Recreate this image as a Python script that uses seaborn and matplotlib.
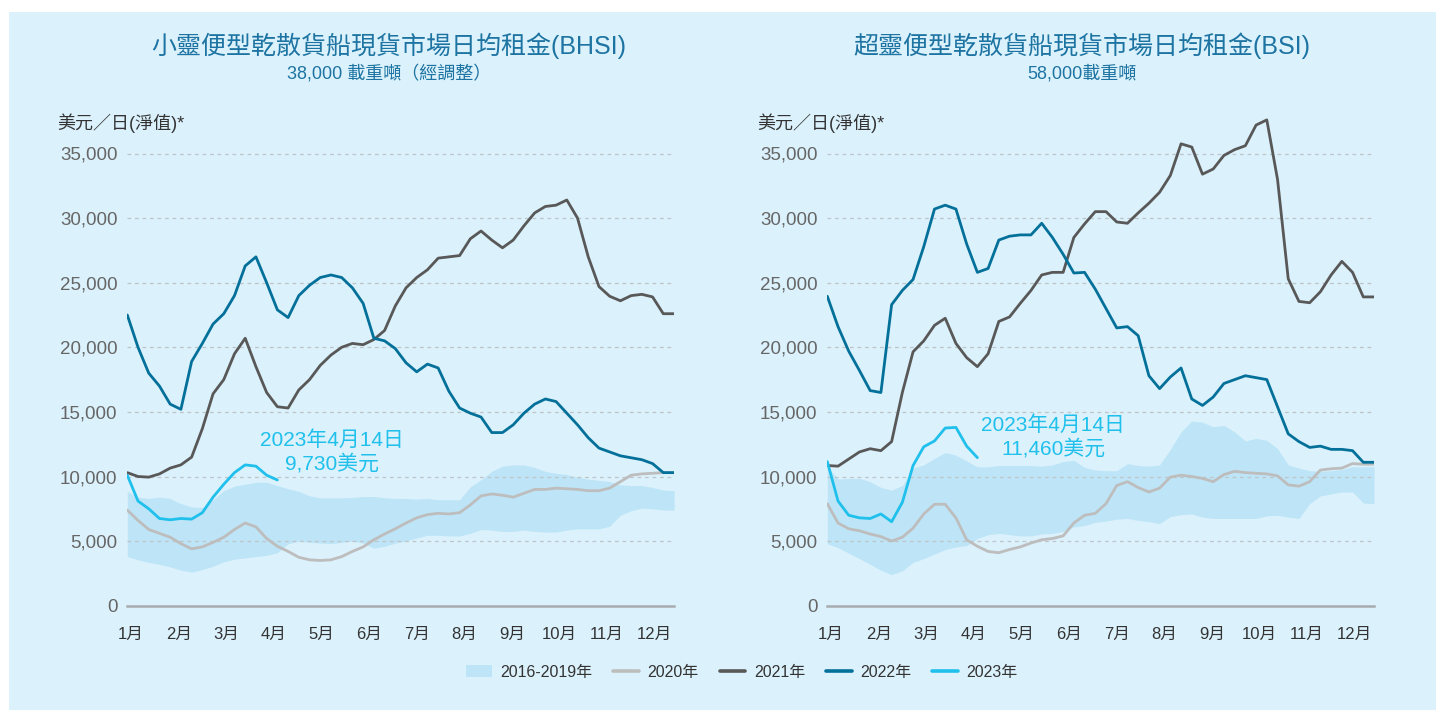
import matplotlib
matplotlib.use("Agg")
import matplotlib.pyplot as plt
import seaborn as sns
import pandas as pd
from matplotlib.patches import Rectangle
from matplotlib.lines import Line2D
from matplotlib.patches import Patch

# weekly values, week 0 = start of January
bhsi_2020 = [7400, 6600, 5900, 5600, 5300, 4800, 4400, 4550, 4900, 5300, 5900, 6400, 6100, 5200, 4600, 4200,
             3750, 3550, 3500, 3550, 3800, 4200, 4550, 5100, 5550, 5950, 6400, 6800, 7050, 7150, 7100, 7200,
             7800, 8500, 8650, 8550, 8400, 8700, 9000, 9000, 9100, 9050, 9000, 8900, 8900, 9100, 9600, 10100,
             10200, 10250, 10300, 10300]
bhsi_2021 = [10300, 10000, 9950, 10200, 10650, 10900, 11500, 13700, 16400, 17500, 19500, 20700, 18500, 16500,
             15400, 15300, 16700, 17500, 18600, 19400, 20000, 20300, 20200, 20600, 21300, 23200, 24600, 25400,
             26000, 26900, 27000, 27100, 28400, 29000, 28300, 27700, 28300, 29400, 30400, 30900, 31000, 31400,
             30000, 27000, 24700, 23950, 23600, 24000, 24100, 23900, 22600, 22600]
bhsi_2022 = [22500, 20000, 18000, 17000, 15600, 15200, 18900, 20300, 21800, 22600, 24000, 26300, 27000, 25000,
             22900, 22300, 24000, 24800, 25400, 25600, 25400, 24600, 23400, 20700, 20500, 19900, 18800, 18100,
             18700, 18400, 16600, 15300, 14900, 14600, 13400, 13400, 14000, 14900, 15600, 16000, 15800, 14900,
             14000, 13000, 12200, 11900, 11600, 11450, 11300, 11000, 10300, 10300]
bhsi_2023 = [10100, 8100, 7500, 6750, 6650, 6750, 6700, 7200, 8400, 9400, 10300, 10900, 10800, 10100, 9730]
bhsi_band_hi = [8850, 8400, 8300, 8400, 8300, 7900, 7650, 7600, 8200, 8900, 9250, 9400, 9550, 9550, 9300, 9050,
                8850, 8500, 8350, 8350, 8350, 8380, 8450, 8450, 8350, 8300, 8300, 8250, 8300, 8200, 8200, 8200,
                9200, 9750, 10400, 10800, 10900, 10900, 10700, 10400, 10250, 10150, 9950, 9800, 9700, 9600,
                9350, 9300, 9300, 9150, 8950, 8900]
bhsi_band_lo = [3800, 3550, 3350, 3200, 3000, 2750, 2600, 2800, 3050, 3400, 3600, 3700, 3800, 3900, 4100, 4800,
                5000, 4900, 4850, 4800, 4900, 5000, 4850, 4450, 4600, 4850, 5000, 5250, 5450, 5450, 5400, 5400,
                5600, 5900, 5850, 5750, 5750, 5850, 5750, 5700, 5700, 5850, 5950, 5950, 5950, 6150, 7000, 7350,
                7550, 7500, 7400, 7400]

bsi_2020 = [7900, 6400, 5950, 5800, 5550, 5350, 5000, 5300, 6000, 7100, 7850, 7850, 6800, 5100, 4600, 4200,
            4100, 4350, 4550, 4850, 5100, 5200, 5400, 6400, 7000, 7150, 7900, 9300, 9600, 9150, 8800, 9100,
            9950, 10100, 10000, 9850, 9600, 10150, 10400, 10300, 10250, 10200, 10050, 9350, 9250, 9600, 10500,
            10600, 10650, 11000, 10950, 10950]
bsi_2021 = [10850, 10800, 11350, 11900, 12150, 12000, 12700, 16500, 19650, 20500, 21700, 22250, 20300, 19200,
            18500, 19500, 22000, 22350, 23400, 24400, 25600, 25800, 25800, 28500, 29550, 30500, 30500, 29700,
            29600, 30400, 31150, 32000, 33300, 35750, 35500, 33400, 33800, 34850, 35300, 35600, 37200, 37600,
            33000, 25300, 23550, 23450, 24300, 25600, 26650, 25800, 23900, 23900]
bsi_2022 = [23950, 21600, 19700, 18200, 16650, 16500, 23300, 24400, 25250, 27800, 30700, 31000, 30700, 28000,
            25800, 26100, 28300, 28600, 28700, 28700, 29600, 28500, 27200, 25750, 25800, 24500, 23000, 21500,
            21600, 20900, 17800, 16800, 17700, 18400, 16000, 15500, 16150, 17200, 17500, 17800, 17650, 17500,
            15400, 13300, 12700, 12250, 12350, 12100, 12100, 12000, 11100, 11100]
bsi_2023 = [11150, 8100, 7000, 6800, 6750, 7100, 6500, 8000, 10850, 12300, 12750, 13750, 13800, 12350, 11460]
bsi_band_hi = [10750, 9800, 9850, 9850, 9600, 9150, 8950, 9300, 10650, 10900, 11400, 11850, 11650, 11200, 10750,
               10750, 10850, 10850, 10850, 10850, 10800, 10900, 11150, 11250, 10700, 10500, 10450, 10450, 11000,
               10850, 10800, 10900, 12100, 13450, 14300, 14200, 13850, 13950, 13450, 12750, 12950, 12800, 12150,
               10900, 10650, 10450, 10400, 10450, 10550, 10750, 10750, 10750]
bsi_band_lo = [4800, 4500, 4050, 3650, 3200, 2750, 2400, 2700, 3350, 3650, 4000, 4350, 4550, 4650, 5200, 5500,
               5600, 5500, 5400, 5400, 5550, 5600, 5750, 6100, 6200, 6450, 6550, 6700, 6750, 6600, 6500, 6350,
               6900, 7050, 7100, 6850, 6750, 6750, 6750, 6750, 6750, 6950, 7000, 6850, 6750, 7900, 8500, 8650,
               8800, 8800, 7950, 7900]

month_labels = ["1月", "2月", "3月", "4月", "5月", "6月", "7月", "8月", "9月", "10月", "11月", "12月"]
year_labels = ["2020年", "2021年", "2022年", "2023年"]
band_label = "2016-2019年"

titles = ["小靈便型乾散貨船現貨市場日均租金(BHSI)", "超靈便型乾散貨船現貨市場日均租金(BSI)"]
subtitles = ["38,000 載重噸（經調整）", "58,000載重噸"]
notes = ["2023年4月14日\n9,730美元", "2023年4月14日\n11,460美元"]
unit_label = "美元／日(淨值)*"

BG = "#dbf1fc"
BAND = "#bde5f7"
colors = {"2020年": "#bdbdbd", "2021年": "#585858", "2022年": "#03709a", "2023年": "#20c0ec"}
TITLE_C = "#1d74a2"

sns.set_style("white")
plt.rcParams["font.family"] = ["Liberation Sans", "Noto Sans CJK TC"]

W, H = 1436, 710
fig = plt.figure(figsize=(W / 100, H / 100), dpi=100)
fig.patch.set_facecolor("white")
fig.patches.append(Rectangle((9 / W, 0), 1 - 9 / W, 1 - 12 / H, transform=fig.transFigure,
                             facecolor=BG, edgecolor="none", zorder=-10))

YMAX = 38500
ax_w = 546.7
ax_h = YMAX / 5000 * 64.6


def draw_panel(left_px, series, band_lo, band_hi, note, note_xy):
    ax = fig.add_axes([left_px / W, (H - 605.7) / H, ax_w / W, ax_h / H])
    ax.set_facecolor("none")
    weeks = list(range(len(band_lo)))
    ax.fill_between(weeks, band_lo, band_hi, color=BAND, linewidth=0, zorder=1)
    for name, vals in zip(year_labels, series):
        df = pd.DataFrame({"week": range(len(vals)), "value": vals})
        sns.lineplot(data=df, x="week", y="value", ax=ax, color=colors[name],
                     linewidth=2.0, zorder=3)
    ax.set_xlim(0, 51)
    ax.set_ylim(0, YMAX)
    ax.set_yticks(range(0, 35001, 5000))
    ax.set_yticklabels([f"{v:,}" for v in range(0, 35001, 5000)])
    ax.set_xticks([0.35 + 4.44 * k for k in range(12)])
    ax.set_xticklabels(month_labels)
    ax.set_xlabel("")
    ax.set_ylabel("")
    ax.set_axisbelow("line")
    ax.yaxis.grid(True, color="#bfc4c8", linestyle=(0, (3, 3)), linewidth=0.9)
    ax.xaxis.grid(False)
    for s in ["top", "right", "left"]:
        ax.spines[s].set_visible(False)
    ax.spines["bottom"].set_color("#a8acae")
    ax.spines["bottom"].set_linewidth(1.8)
    ax.tick_params(axis="y", length=0, pad=7, labelsize=13.5, labelcolor="#666666")
    ax.tick_params(axis="x", length=0, pad=15, labelsize=12, labelcolor="#333333")
    ax.text(note_xy[0], note_xy[1], note, transform=None, color=colors["2023年"], fontsize=15,
            ha="center", va="center", linespacing=1.2)
    return ax


ax1 = draw_panel(127.3, [bhsi_2020, bhsi_2021, bhsi_2022, bhsi_2023], bhsi_band_lo, bhsi_band_hi,
                 notes[0], (332, H - 452))
ax2 = draw_panel(827.3, [bsi_2020, bsi_2021, bsi_2022, bsi_2023], bsi_band_lo, bsi_band_hi,
                 notes[1], (1053, H - 437))

for cx, title, sub in zip([389, 1082], titles, subtitles):
    fig.text(cx / W, 1 - 46 / H, title, ha="center", va="center", fontsize=18, color=TITLE_C)
    fig.text(cx / W, 1 - 74 / H, sub, ha="center", va="center", fontsize=13, color=TITLE_C)
for lx in [57, 757]:
    fig.text(lx / W, 1 - 123 / H, unit_label, ha="left", va="center", fontsize=13, color="#333333")

handles = [Patch(facecolor=BAND, edgecolor="none")] + \
          [Line2D([], [], color=colors[n], linewidth=2.6) for n in year_labels]
fig.legend(handles, [band_label] + year_labels, loc="center", bbox_to_anchor=(742 / W, 1 - 672 / H),
           ncol=5, frameon=False, fontsize=11.5, handlelength=1.6, handletextpad=0.55,
           columnspacing=1.3, labelcolor="#333333")

fig.savefig("out.png", dpi=100, facecolor="white")
